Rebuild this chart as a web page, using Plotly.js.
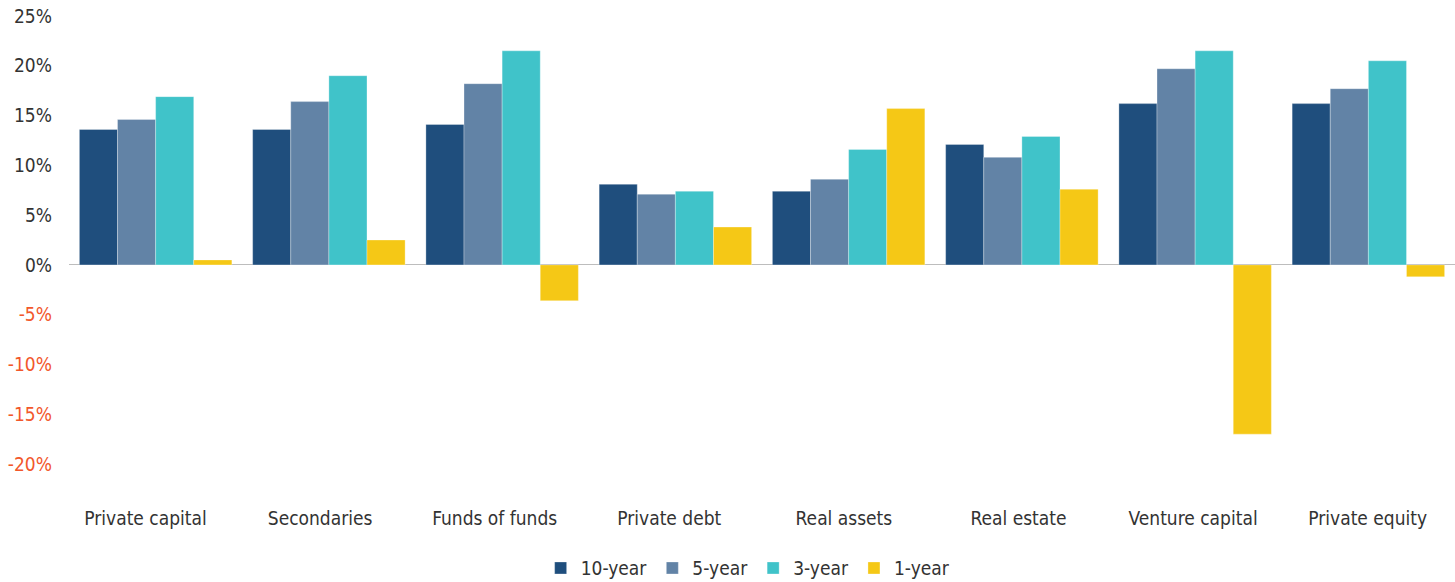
<!DOCTYPE html>
<html><head><meta charset="utf-8">
<script src="https://cdn.plot.ly/plotly-3.0.1.min.js"></script>
<style>body{margin:0;background:#fff}#chart{width:1455px;height:582px}</style>
</head><body><div id="chart"></div>
<script>
const categories = ["Private capital","Secondaries","Funds of funds","Private debt","Real assets","Real estate","Venture capital","Private equity"];
const tenYear  = [13.6, 13.6, 14.1, 8.1, 7.4, 12.1, 16.2, 16.2];
const fiveYear = [14.6, 16.4, 18.2, 7.1, 8.6, 10.8, 19.7, 17.7];
const threeYear= [16.9, 19.0, 21.5, 7.4, 11.6, 12.9, 21.5, 20.5];
const oneYear  = [0.5, 2.5, -3.6, 3.8, 15.7, 7.6, -17.0, -1.2];
const seriesNames = ["10-year","5-year","3-year","1-year"];
const colors = ["#1F4E7D","#6283A6","#40C3C9","#F5C816"];
const tickVals = [25,20,15,10,5,0,-5,-10,-15,-20];

const font = "'Liberation Sans Narrow', 'DejaVu Sans Condensed', 'Roboto', sans-serif";
const data = [tenYear, fiveYear, threeYear, oneYear].map((v,i)=>({
  type:'bar', x:categories, y:v, name:seriesNames[i],
  marker:{color:colors[i], line:{color:'rgba(255,255,255,0.6)', width:0.5}}
}));
// invisible helper trace to carry the category labels on a second x axis
data.push({type:'scatter', x:categories.map((c,i)=>i), y:categories.map(()=>0), xaxis:'x2', yaxis:'y',
  mode:'markers', marker:{opacity:0}, showlegend:false, hoverinfo:'skip'});
const tickText = tickVals.map(v => v < 0 ? `<span style="color:#F2572B">${v}%</span>` : `${v}%`);
const layout = {
  width:1455, height:582,
  margin:{l:69, r:0, t:16, b:118, autoexpand:false},
  paper_bgcolor:'#fff', plot_bgcolor:'#fff',
  barmode:'group', bargap:0.12, bargroupgap:0,
  font:{family:font, size:19, color:'#333'},
  xaxis:{showgrid:false, showline:false, ticks:'', showticklabels:false, automargin:false},
  xaxis2:{overlaying:'x', anchor:'y', side:'bottom', range:[-0.438, 7.5], tickvals:categories.map((c,i)=>i),
          ticktext:categories, showgrid:false, zeroline:false, showline:false, ticks:'', automargin:false,
          tickfont:{size:19, color:'#333'}, ticklabelstandoff:41},
  yaxis:{range:[-20,25], tickvals:tickVals, ticktext:tickText, showgrid:false, zeroline:true, automargin:false,
         zerolinecolor:'#BDBDBD', zerolinewidth:1, showline:false, ticks:'', ticklabelstandoff:16,
         tickfont:{size:19, color:'#333'}},
  legend:{orientation:'h', x:0.49, xanchor:'center', y:-0.19, yanchor:'top', font:{size:19, color:'#333'}, traceorder:'normal'},
  showlegend:true
};
Plotly.newPlot('chart', data, layout, {displayModeBar:false});
</script></body></html>
